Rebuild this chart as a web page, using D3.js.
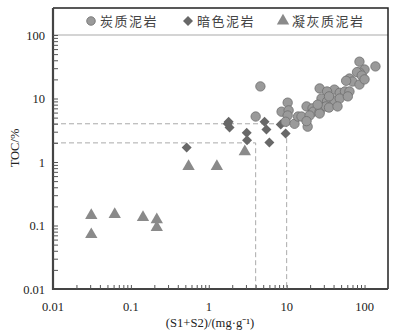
<!DOCTYPE html>
<html><head><meta charset="utf-8">
<script src="https://cdn.jsdelivr.net/npm/d3@7/dist/d3.min.js"></script>
<style>body{margin:0;background:#fff}svg{display:block}</style>
</head><body><svg id="c" width="397" height="334"></svg>
<script>
// Data
const seriesNames = ["炭质泥岩", "暗色泥岩", "凝灰质泥岩"];
const carbonX = [4.6, 4.0, 8.6, 10.3, 10.6, 10.3, 9.7, 12.6, 14, 15.5, 18, 21.5, 22, 26.5, 19.7, 18.6, 18, 26.5,
  26.5, 41, 33, 48, 56, 64, 28, 33, 41, 35, 48, 61, 32, 35, 45, 25,
  86, 138, 100, 86, 80, 92, 64, 70, 86, 58, 100];
const carbonY = [15.5, 5.2, 6.2, 8.6, 6.5, 5.4, 4.3, 4.0, 5.2, 5.2, 7.5, 7.0, 6.2, 6.2, 5.4, 3.6, 4.4, 5.8,
  14.4, 13.8, 12.9, 12.3, 12.9, 12.9, 10, 9.0, 9.3, 10.8, 10, 10.8, 7.5, 7.2, 7.5, 8.0,
  38, 32, 28.6, 25.7, 26, 23, 20.6, 18.5, 16.6, 19, 20];
const darkX = [0.52, 3.07, 3.1, 1.8, 1.85, 1.75, 5.2, 5.5, 6.0, 8.4, 9.7];
const darkY = [1.69, 2.9, 2.2, 4.3, 3.5, 4.0, 4.3, 3.25, 2.03, 3.9, 2.8];
const tuffX = [0.031, 0.031, 0.062, 0.143, 0.215, 0.215, 0.55, 1.27, 2.9];
const tuffY = [0.144, 0.072, 0.15, 0.134, 0.124, 0.093, 0.85, 0.85, 1.46];
const xTicks = [0.01, 0.1, 1, 10, 100];
const yTicks = [0.01, 0.1, 1, 10, 100];
const xLabel = "(S1+S2)/(mg·g⁻¹)";
const yLabel = "TOC/%";
// guide lines: [x, y] thresholds
const guideA = [10, 4];
const guideB = [4, 2];

const svg = d3.select("#c");
const L = 53, R = 388, T = 8, B = 289, PT = 35;
const x = d3.scaleLog().domain([0.01, 200]).range([L, R]);
const y = d3.scaleLog().domain([0.01, 100]).range([B, PT]);

// dashed guides
const g = svg.append("g").attr("stroke", "#aaa").attr("stroke-width", 1).attr("stroke-dasharray", "5,3").attr("fill", "none");
[guideA, guideB].forEach(([gx, gy]) => {
  g.append("path").attr("d", `M${x(0.01)},${y(gy)}H${x(gx)}V${y(0.01)}`);
});

// legend separator
svg.append("line").attr("x1", L).attr("x2", R).attr("y1", y(100)).attr("y2", y(100))
  .attr("stroke", "#aaa").attr("stroke-width", 1.2);

// frame
svg.append("path").attr("d", `M${L},${T}H${R}V${B}`).attr("fill", "none").attr("stroke", "#222").attr("stroke-width", 1.5);
svg.append("path").attr("d", `M${L},${T}V${B}H${R}`).attr("fill", "none").attr("stroke", "#444").attr("stroke-width", 2.2);

// minor ticks
const minor = (lo, hi) => { const a = []; for (let e = lo; e < hi; e++) for (let k = 1; k < 10; k++) a.push(k * Math.pow(10, e)); a.push(Math.pow(10, hi)); return a; };
const xAxis = d3.axisBottom(x).tickValues(minor(-2, 2).filter(v => v > 0.01 && v <= 200)).tickSize(-4).tickFormat("");
svg.append("g").attr("transform", `translate(0,${B})`).call(xAxis)
  .call(s => { s.select(".domain").remove(); s.selectAll("line").attr("stroke", "#555"); });
const yAxis = d3.axisLeft(y).tickValues(minor(-2, 2).filter(v => v > 0.01)).tickSize(-5).tickFormat("");
svg.append("g").attr("transform", `translate(${L},0)`).call(yAxis)
  .call(s => { s.select(".domain").remove(); s.selectAll("line").attr("stroke", "#555"); });

// tick labels
const fmt = v => String(v);
svg.append("g").selectAll("text").data(xTicks).join("text")
  .attr("x", d => x(d)).attr("y", 311).attr("text-anchor", "middle")
  .attr("font-family", "Liberation Serif, serif").attr("font-size", 12.5).attr("fill", "#222").text(fmt);
svg.append("g").selectAll("text").data(yTicks).join("text")
  .attr("x", 45).attr("y", d => y(d) + 4.5).attr("text-anchor", "end")
  .attr("font-family", "Liberation Serif, serif").attr("font-size", 12.5).attr("fill", "#222").text(fmt);

svg.append("text").attr("x", 210).attr("y", 327).attr("text-anchor", "middle")
  .attr("font-family", "Liberation Serif, serif").attr("font-size", 12.6).attr("fill", "#222").text(xLabel);
svg.append("text").attr("transform", `translate(19,148) rotate(-90)`).attr("text-anchor", "middle")
  .attr("font-family", "Liberation Serif, serif").attr("font-size", 12.5).attr("fill", "#222").text(yLabel);

// markers
const cFill = "#9a9a9a", cStroke = "#6f6f6f", dFill = "#686868", tFill = "#8a8a8a";
const diamond = d3.symbol().type(d3.symbolSquare).size(50);
const tri = d3.symbol().type(d3.symbolTriangle).size(66);

svg.append("g").selectAll("path").data(d3.zip(tuffX, tuffY)).join("path")
  .attr("d", tri).attr("transform", d => `translate(${x(d[0])},${y(d[1])})`).attr("fill", tFill);
svg.append("g").selectAll("path").data(d3.zip(darkX, darkY)).join("path")
  .attr("d", diamond).attr("transform", d => `translate(${x(d[0])},${y(d[1])}) rotate(45)`).attr("fill", dFill);
svg.append("g").selectAll("circle").data(d3.zip(carbonX, carbonY)).join("circle")
  .attr("cx", d => x(d[0])).attr("cy", d => y(d[1])).attr("r", 4.7)
  .attr("fill", cFill).attr("stroke", cStroke).attr("stroke-width", 0.8);

// legend
const lg = svg.append("g");
const legendX = [91, 188, 283];
lg.append("circle").attr("cx", legendX[0]).attr("cy", 21).attr("r", 4.3).attr("fill", cFill).attr("stroke", cStroke).attr("stroke-width", 0.8);
lg.append("path").attr("d", diamond).attr("transform", `translate(${legendX[1]},21) rotate(45)`).attr("fill", dFill);
lg.append("path").attr("d", tri).attr("transform", `translate(${legendX[2]},21)`).attr("fill", tFill);
lg.selectAll("text").data(seriesNames).join("text")
  .attr("x", (d, i) => legendX[i] + 9).attr("y", 26)
  .attr("font-family", "Noto Sans CJK SC, sans-serif").attr("font-size", 13).attr("letter-spacing", 1.5)
  .attr("fill", "#444").text(d => d);
</script></body></html>
